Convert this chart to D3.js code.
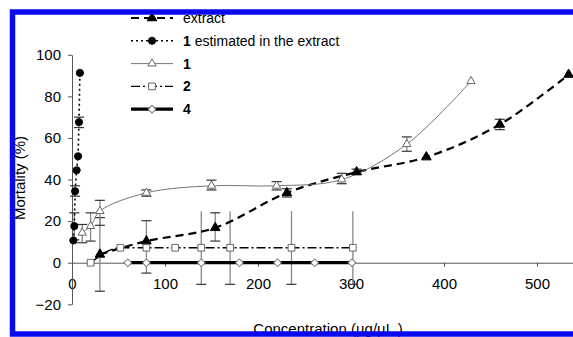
<!DOCTYPE html>
<html lang="en">
<head>
	<meta charset="UTF-8">
	<script src="https://d3js.org/d3.v7.min.js"></script>
	<style>
	body { margin: 0; background: #fff; }
	svg { display: block; font-family: "Liberation Sans", Arial, sans-serif; }
	</style>
	<title>Mortality vs concentration</title>
</head>
<body>
	<div id="chart"></div>
	<script>
		// values (concentration ug/uL, mortality %)
		const extractConc = [30, 80, 154, 231, 306, 381, 460, 534];
		const extractMort = [4, 10.4, 16.8, 33.6, 43.6, 50.8, 66.5, 90.5];
		const extractLo = [-13.7, -5, 10.4, 31.6, 42.5, null, 64, null];
		const extractHi = [21.7, 20.2, 24, 35.6, 45, null, 69, null];

		const estConc = [1.5, 2.5, 3.3, 5, 6.5, 7.5, 8.5];
		const estMort = [10.7, 17.6, 34.4, 44.5, 51.2, 67.6, 91.3];
		const estLo = [null, 11, 32, null, null, 65, null];
		const estHi = [null, 24, 37, null, null, 70, null];

		const oneConc = [11, 20, 30, 80, 150, 220, 290, 360, 429];
		const oneMort = [14.4, 17.6, 24.8, 33.6, 37, 37, 40, 57, 87.3];
		const oneLo = [9.6, 10.4, 18, 32, 35, 35, 38, 53.6, null];
		const oneHi = [18.4, 24, 30, 35, 39.7, 39, 43, 60.5, null];

		const twoConc = [20, 52, 80, 111, 139, 170, 236, 302];
		const twoMort = [0, 7.2, 7.2, 7.2, 7.2, 7.2, 7.2, 7.2];
		const twoLo = [null, null, null, null, -10.4, -10.4, -10.4, -10.4];
		const twoHi = [null, null, null, null, 24.8, 24.8, 24.8, 24.8];

		const fourConc = [60, 80, 139, 180, 221, 261, 301];
		const fourMort = [0, 0, 0, 0, 0, 0, 0];

		const xTicks = [0, 100, 200, 300, 400, 500];
		const yTicks = [-20, 0, 20, 40, 60, 80, 100];

		const legendNames = [
			["", "extract"],
			["1", " estimated in the extract"],
			["1", ""],
			["2", ""],
			["4", ""]
		];

		const W = 573, H = 337;
		const svg = d3.select("#chart").append("svg")
			.attr("width", W)
			.attr("height", H);

		const x = d3.scaleLinear().domain([0, 540]).range([72, 574.2]);
		const y = d3.scaleLinear().domain([-20, 100]).range([304.3, 54.8]);

		// axes
		const xAxis = svg.append("g")
			.attr("transform", "translate(0," + y(0) + ")")
			.call(d3.axisBottom(x).tickValues(xTicks).tickSize(4).tickSizeOuter(0).tickPadding(12));
		const yAxis = svg.append("g")
			.attr("transform", "translate(" + x(0) + ",0)")
			.call(d3.axisLeft(y).tickValues(yTicks).tickSize(4).tickSizeOuter(0).tickPadding(7));
		svg.selectAll(".tick text").style("font-size", "15px").attr("fill", "#000");
		svg.selectAll(".domain, .tick line").attr("stroke", "#555");

		function zip(c, m, lo, hi) {
			return c.map((d, i) => ({ c: d, m: m[i], lo: lo ? lo[i] : null, hi: hi ? hi[i] : null }));
		}

		const series = [
			{ data: zip(extractConc, extractMort, extractLo, extractHi), sym: d3.symbolTriangle, size: 40,
				fill: "#000", stroke: "#000", lw: 2.2, dash: "8,5", col: "#000", curve: d3.curveCatmullRom, caps: "both" },
			{ data: zip(estConc, estMort, estLo, estHi), sym: d3.symbolCircle, size: 40,
				fill: "#000", stroke: "#000", lw: 1.6, dash: "2,3", col: "#000", curve: d3.curveLinear, caps: "both" },
			{ data: zip(oneConc, oneMort, oneLo, oneHi), sym: d3.symbolTriangle, size: 30,
				fill: "#fff", stroke: "#666", lw: 0.9, dash: null, col: "#666", curve: d3.curveCatmullRom, caps: "both" },
			{ data: zip(twoConc, twoMort, twoLo, twoHi), sym: d3.symbolSquare, size: 45,
				fill: "#fff", stroke: "#666", lw: 1.4, dash: "9,3,2,3", col: "#000", curve: d3.curveMonotoneX, caps: "low" },
			{ data: zip(fourConc, fourMort), sym: d3.symbolSquare, size: 30, rot: 45,
				fill: "#fff", stroke: "#777", lw: 3.2, dash: null, col: "#000", curve: d3.curveLinear, caps: "both" }
		];

		// error bars
		const errG = svg.append("g");
		series.forEach(s => {
			s.data.filter(d => d.lo != null).forEach(d => {
				errG.append("line")
					.attr("x1", x(d.c)).attr("x2", x(d.c))
					.attr("y1", y(d.hi)).attr("y2", y(d.lo))
					.attr("stroke", "#888").attr("stroke-width", 1.3);
				const caps = s.caps == "low" ? [d.lo] : [d.lo, d.hi];
				caps.forEach(v => {
					errG.append("line")
						.attr("x1", x(d.c) - 5).attr("x2", x(d.c) + 5)
						.attr("y1", y(v)).attr("y2", y(v))
						.attr("stroke", "#333").attr("stroke-width", 1.2);
				});
			});
		});

		// lines
		series.forEach(s => {
			const line = d3.line().x(d => x(d.c)).y(d => y(d.m)).curve(s.curve);
			svg.append("path")
				.attr("d", line(s.data))
				.attr("fill", "none")
				.attr("stroke", s.col)
				.attr("stroke-width", s.lw)
				.attr("stroke-dasharray", s.dash);
		});

		// markers
		series.forEach(s => {
			svg.append("g").selectAll("path")
				.data(s.data)
				.join("path")
				.attr("d", d3.symbol(s.sym, s.size))
				.attr("transform", d => "translate(" + x(d.c) + "," + y(d.m) + ")" + (s.rot ? " rotate(" + s.rot + ")" : ""))
				.attr("fill", s.fill)
				.attr("stroke", s.stroke)
				.attr("stroke-width", 1);
		});

		// legend
		const legend = svg.append("g");
		series.forEach((s, i) => {
			const ly = 18 + i * 22.8;
			legend.append("line")
				.attr("x1", 131).attr("x2", 173)
				.attr("y1", ly).attr("y2", ly)
				.attr("stroke", s.col)
				.attr("stroke-width", s.lw)
				.attr("stroke-dasharray", s.dash);
			legend.append("path")
				.attr("d", d3.symbol(s.sym, s.size))
				.attr("transform", "translate(152," + ly + ")" + (s.rot ? " rotate(" + s.rot + ")" : ""))
				.attr("fill", s.fill)
				.attr("stroke", s.stroke);
			const t = legend.append("text")
				.attr("x", 183).attr("y", ly + 5)
				.style("font-size", "14px");
			t.append("tspan").attr("font-weight", "bold").text(legendNames[i][0]);
			t.append("tspan").text(legendNames[i][1]);
		});

		// axis titles
		svg.append("text")
			.attr("transform", "translate(25,178) rotate(-90)")
			.attr("text-anchor", "middle")
			.style("font-size", "15px")
			.text("Mortality (%)");
		svg.append("text")
			.attr("x", 328).attr("y", 334)
			.attr("text-anchor", "middle")
			.style("font-size", "15px")
			.text("Concentration (µg/µL )");

		// blue frame
		svg.append("rect")
			.attr("x", 12.5).attr("y", 12)
			.attr("width", 620).attr("height", 322)
			.attr("fill", "none")
			.attr("stroke", "#0a0aee")
			.attr("stroke-width", 5.5);
	</script>
</body>
</html>
